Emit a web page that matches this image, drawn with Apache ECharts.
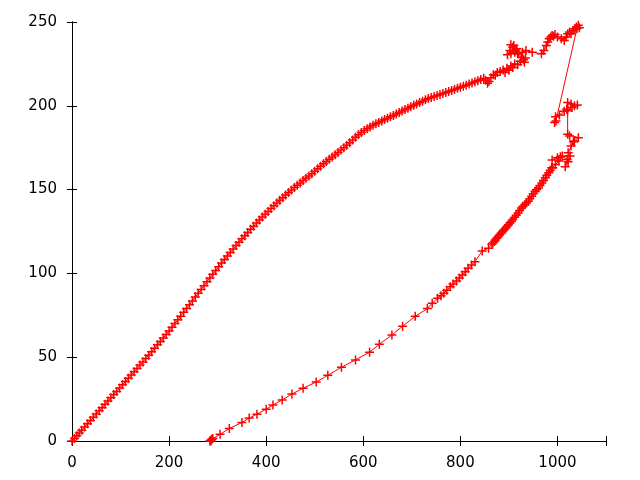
<!DOCTYPE html>
<html>
<head>
<meta charset="utf-8">
<script src="https://cdn.jsdelivr.net/npm/echarts@6/dist/echarts.min.js"></script>
<style>html,body{margin:0;padding:0;background:#fff}#c{width:640px;height:480px}</style>
</head>
<body>
<div id="c"></div>
<script>
var xTickLabels = [0, 200, 400, 600, 800, 1000];
var yTickLabels = [0, 50, 100, 150, 200, 250];

var riseSegment = [
[0,0],[5,1.5],[10,3.2],[15,4.8],[20,6.4],[26,8.3],[32,10.3],[38,12.2],[44,14.1],[50,16.1],
[56,18],[62,19.9],[68,21.9],[74,23.8],[80,25.8],[86,27.7],[92,29.6],[98,31.6],[104,33.5],[110,35.5],
[116,37.4],[122,39.4],[128,41.3],[134,43.3],[140,45.3],[146,47.2],[152,49.2],[158,51.2],[164,53.3],[170,55.3],
[176,57.4],[182,59.4],[188,61.5],[194,63.6],[200,65.7],[206,67.9],[212,70.1],[218,72.3],[224,74.5],[230,76.8],
[236,79.1],[242,81.3],[248,83.6],[254,85.9],[260,88.1],[266,90.4],[272,92.7],[278,95],[284,97.3],[290,99.5],
[296,101.7],[302,104],[308,106.2],[314,108.3],[320,110.4],[326,112.5],[332,114.6],[338,116.6],[344,118.6],[350,120.6],
[356,122.5],[362,124.4],[368,126.3],[374,128.2],[380,130],[386,131.8],[392,133.6],[398,135.3],[404,137],[410,138.7],
[416,140.4],[422,142],[428,143.6],[434,145.2],[440,146.8],[446,148.3],[452,149.8],[458,151.2],[464,152.6],[470,154],
[476,155.4],[482,156.8],[488,158.1],[494,159.5],[500,160.9],[506,162.5],[512,164],[518,165.4],[524,166.8],[530,168.1],
[536,169.5],[542,170.8],[548,172.2],[554,173.6],[560,175],[566,176.5],[572,178],[578,179.6],[584,181.3],[590,182.7],
[596,184],[602,185.2],[608,186.3],[614,187.4],[620,188.4],[626,189.3],[632,190.1],[638,190.9],[644,191.8],[650,192.6],
[656,193.4],[662,194.2],[668,195.1],[674,196],[680,196.9],[686,197.8],[692,198.6],[698,199.5],[704,200.3],[710,201.1],
[716,201.9],[722,202.7],[728,203.6],[734,204.3],[740,205],[746,205.6],[752,206.2],[758,206.8],[764,207.4],[770,208],
[776,208.6],[782,209.2],[788,209.8],[794,210.4],[800,211],[806,211.7],[812,212.3],[818,213],[824,213.6],[830,214.3],
[836,215],[842,215.7],[848,216.4],[852,215.2],[856,213.5],[859,214.5],[863,216.8],[868,218.5],[872,218.2],[876,219.8],
[882,220.5],[888,221.3],[892,219.8],[896,222.4],[900,221.2],[904,223.8],[908,222.8],[912,225],[918,224.5],[924,226.6],
[930,227.5],[934,228.5]
];

var topCluster = [
[932,226],[926,229],[920,231],[914,233],[908,235],[904,236.5],[910,236],[916,234],[912,232],[904,231],
[897,230.5],[902,233],[918,231],[928,232],[935,233],[948,232],[967,231],[972,233],[977,236],[980,238],
[983,240],[986,241],[989,242],[992,241.5],[995,242.5],[1000,241],[1008,240],[1014,239],[1018,241],[1021,243],
[1025,244],[1028,243],[1032,245],[1036,246],[1039,247],[1043,248],[1045,246.5],[1040,246]
];

var dropCluster = [
[997,191],[994,190],[996,193.5],[1004,194.5],[1014,196.7],[1019,198],[1021,202],[1028,201],[1035,200],[1041,200.5],
[1030,199],[1021,197],[1021,183],[1025,182],[1043,181],[1035,179],[1028,176],[1033,178.5],[1022,172],[1026,170],
[1022,166.6],[1016,163.6],[1020,168],[1010,170],[1006,169.6],[989,167.6],[1000,169],[1003,167],[996,165],[990,163]
];

var returnSegment = [
[988,163],[985,161.5],[982,160],[978,158.5],[975,157],[971,155.5],[968,154],[964,152.5],[961,151],[957,150],
[954,149],[950,147.5],[947,146],[943,144.5],[940,143],[936,142],[933,141],[929,140],[926,139],[922,137.5],
[919,136],[915,134.7],[912,133.5],[908,132.2],[905,131],[902,130],[899,129],[896,128],[893,127],[890,126],
[887,125],[884,124],[881,123],[878,122],[875,121],[872,120],[870,119],[867,118.2],[865,117.6],[858,115],
[845,113.4],[830,107],[823,105],[816,103],[810,101],[804,99],[798,97.2],[792,95.5],[785,93.7],[779,92],
[772,90],[766,88.2],[760,86.7],[753,85.2],[742,82.2],[732,79],[707,74.4],[681,68.5],[659,63.3],[633,57.7],
[613,53],[584,48.4],[555,44],[527,39.2],[503,35.2],[476,31.5],[453,28],[433,24.5],[414,21.5],[400,19],
[381,16],[365,13.7],[350,11],[324,7.5],[305,4],[290,1.5],[288,1],[286,0.5],[284,0],[286,0]
];

var path = riseSegment.concat(topCluster, dropCluster, returnSegment);

var chart = echarts.init(document.getElementById('c'), null, {renderer: 'canvas'});
var fontFamily = 'DejaVu Sans';
function baseAxis(extra) {
  return Object.assign({
    type: 'value',
    axisLine: {show: true, lineStyle: {color: '#000', width: 1}},
    axisTick: {show: true, inside: true, length: 5, lineStyle: {color: '#000'}},
    splitLine: {show: false}
  }, extra);
}
chart.setOption({
  animation: false,
  backgroundColor: '#fff',
  grid: {left: 72, right: 34, top: 22, bottom: 39},
  xAxis: [
    baseAxis({position: 'bottom', min: 0, max: 1100, interval: 200,
      axisLabel: {color: '#000', fontFamily: fontFamily, fontSize: 15, margin: 15,
        formatter: function (v) { return xTickLabels.indexOf(v) >= 0 ? String(v) : ''; }}}),
    baseAxis({position: 'top', min: 0, max: 1100, interval: 200, axisLabel: {show: false}})
  ],
  yAxis: [
    baseAxis({position: 'left', min: 0, max: 250, interval: 50,
      axisLabel: {color: '#000', fontFamily: fontFamily, fontSize: 15, margin: 15,
        formatter: function (v) { return yTickLabels.indexOf(v) >= 0 ? String(v) : ''; }}}),
    baseAxis({position: 'right', min: 0, max: 250, interval: 50, axisLabel: {show: false}})
  ],
  series: [{
    type: 'line',
    data: path,
    xAxisIndex: 0,
    yAxisIndex: 0,
    showSymbol: true,
    symbol: 'path://M0,5L10,5M5,0L5,10',
    symbolSize: 9,
    lineStyle: {color: '#ff0000', width: 1},
    itemStyle: {color: '#ff0000', borderColor: '#ff0000', borderWidth: 1.5},
    clip: false,
    silent: true
  }]
});
</script>
</body>
</html>
